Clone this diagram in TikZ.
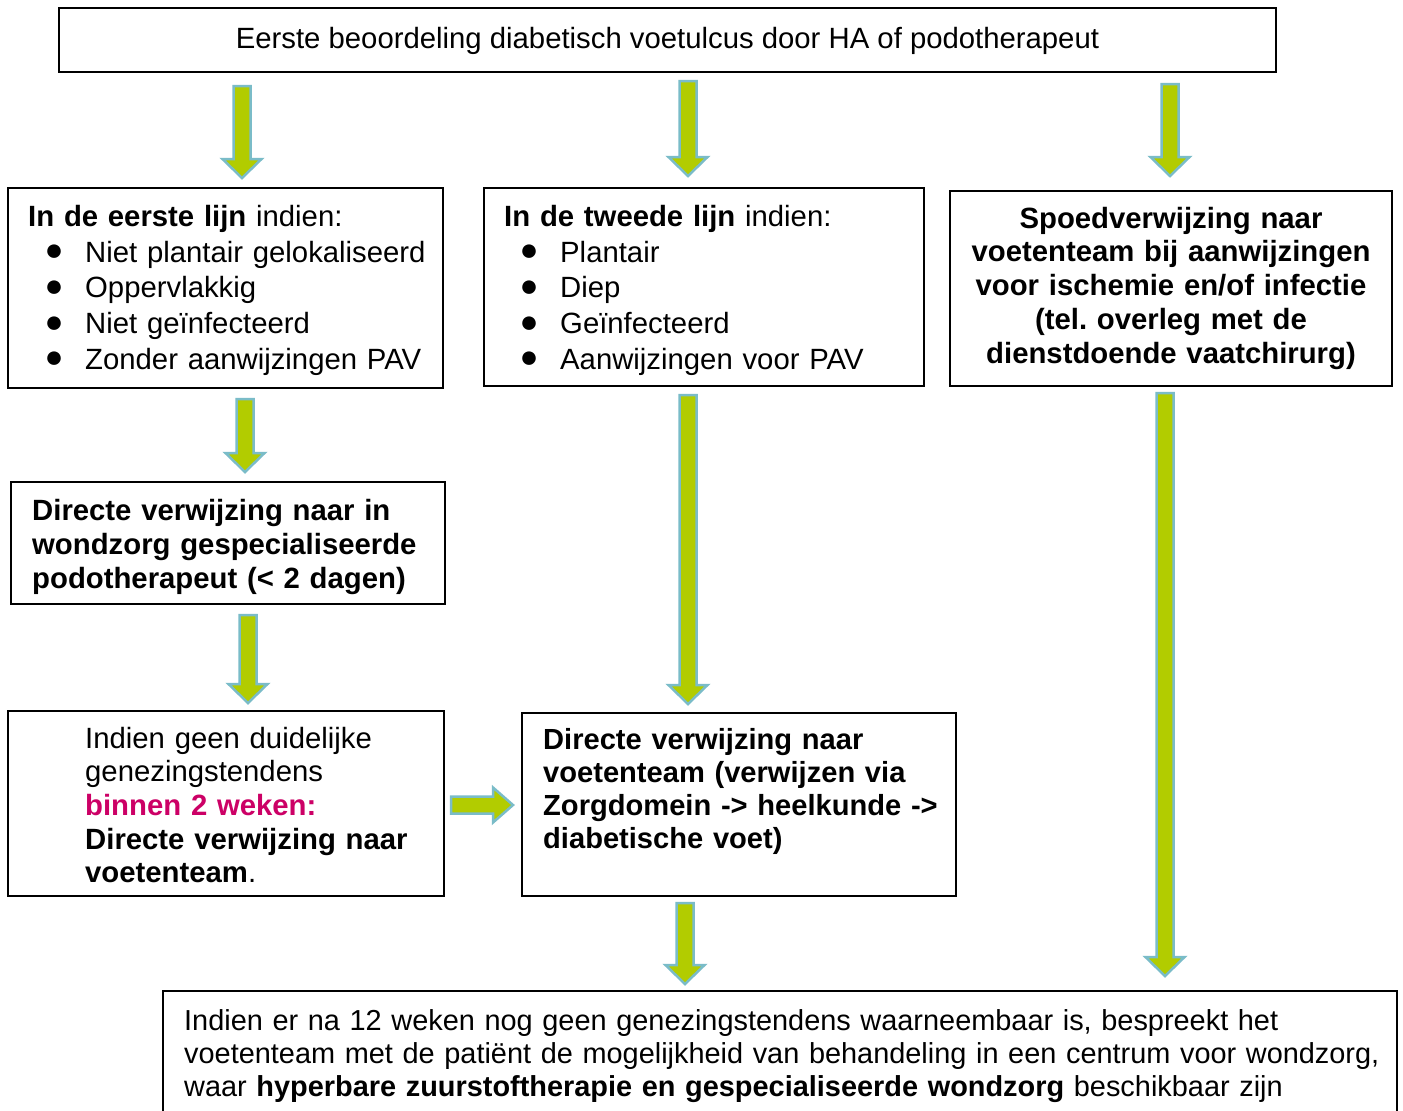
\documentclass[tikz,border=0pt]{standalone}
\usepackage{fontspec}
\usepackage{graphicx}
\setmainfont{Liberation Sans}
\usetikzlibrary{calc}
\definecolor{arrowfill}{RGB}{178,204,0}
\definecolor{arrowedge}{RGB}{122,188,200}
\definecolor{pinkred}{RGB}{204,0,102}
\setlength\parindent{0pt}
\frenchspacing
\hyphenpenalty=10000
\newcommand\bitem{\leavevmode\makebox[41pt][l]{\hspace{0.5pt}\raisebox{1.5pt}{\scalebox{1.43}{\fontsize{22pt}{22pt}\selectfont ●}}}}
% vertical block arrow: #1 source node, #2 target node, #3 x coordinate name, #4 start offset, #5 end gap
\newcommand\varrowbig[5]{%
  \draw[bigarrow] let \p1=($(#1.south -| #3)+(0,#4)$), \p2=($(#2.north -| #3)+(0,-#5)$) in
    ({\x1-8.5pt},\y1) -- ({\x1+8.5pt},\y1) -- ({\x1+8.5pt},{\y2+19pt}) -- ({\x1+19.5pt},{\y2+19pt})
    -- (\x1,\y2) -- ({\x1-19.5pt},{\y2+19pt}) -- ({\x1-8.5pt},{\y2+19pt}) -- cycle;}
% horizontal block arrow
\newcommand\harrowbig[5]{%
  \draw[bigarrow] let \p1=($(#1.east |- #3)+(#4,0)$), \p2=($(#2.west |- #3)+(-#5,0)$) in
    (\x1,{\y1+8.5pt}) -- (\x1,{\y1-8.5pt}) -- ({\x2-20pt},{\y1-8.5pt}) -- ({\x2-20pt},{\y1-17.5pt})
    -- (\x2,\y1) -- ({\x2-20pt},{\y1+17.5pt}) -- ({\x2-20pt},{\y1+8.5pt}) -- cycle;}
\begin{document}
\begin{tikzpicture}[x=1pt,y=-1pt,
  box/.style={draw=black, line width=1.6pt, inner sep=0pt, outer sep=0pt, anchor=north west},
  bigarrow/.style={draw=arrowedge, fill=arrowfill, line width=2.5pt, line join=miter},
  txt/.style={anchor=base west, inner sep=0pt, align=left, text width=#1},
  ctxt/.style={anchor=base, inner sep=0pt, align=center, text width=#1},
]
\useasboundingbox (0,0) rectangle (1403,1111);
\clip (0,0) rectangle (1403,1111);
\fill[white] (0,0) rectangle (1403,1111);

% boxes
\node[box, minimum width=1217pt, minimum height=64pt] (top) at (59,8) {};
\node[box, minimum width=435pt, minimum height=200pt] (L1) at (8,188) {};
\node[box, minimum width=440pt, minimum height=198pt] (M1) at (484,188) {};
\node[box, minimum width=442pt, minimum height=195pt] (R1) at (950,191) {};
\node[box, minimum width=434pt, minimum height=122pt] (L2) at (11,482) {};
\node[box, minimum width=436pt, minimum height=185pt] (L3) at (8,711) {};
\node[box, minimum width=434pt, minimum height=183pt] (M2) at (522,713) {};
\node[box, minimum width=1234pt, minimum height=150pt] (B) at (163,991) {};

% texts
\node[anchor=base, inner sep=0pt, font=\fontsize{29.3pt}{33.7pt}\selectfont] (ttop) at (667.5,48)
  {Eerste beoordeling diabetisch voetulcus door HA of podotherapeut};

\node[txt=420pt, font=\fontsize{29.3pt}{35.8pt}\selectfont] (tL1h) at (28,226)
  {\textbf{In de eerste lijn} indien:};
\node[txt=420pt, font=\fontsize{29.3pt}{35.8pt}\selectfont] (tL1) at (44,262)
  {\bitem Niet plantair gelokaliseerd\\
   \bitem Oppervlakkig\\
   \bitem Niet geïnfecteerd\\
   \bitem Zonder aanwijzingen PAV};

\node[txt=420pt, font=\fontsize{29.3pt}{35.8pt}\selectfont] (tM1h) at (504,226)
  {\textbf{In de tweede lijn} indien:};
\node[txt=420pt, font=\fontsize{29.3pt}{35.8pt}\selectfont] (tM1) at (519,262)
  {\bitem Plantair\\
   \bitem Diep\\
   \bitem Geïnfecteerd\\
   \bitem Aanwijzingen voor PAV};

\node[ctxt=430pt, font=\bfseries\fontsize{29.3pt}{33.8pt}\selectfont] (tR1) at (1171,228)
  {Spoedverwijzing naar\\
   voetenteam bij aanwijzingen\\
   voor ischemie en/of infectie\\
   (tel. overleg met de\\
   dienstdoende vaatchirurg)};

\node[txt=410pt, font=\bfseries\fontsize{29.3pt}{34pt}\selectfont] (tL2) at (32,520)
  {Directe verwijzing naar in\\
   wondzorg gespecialiseerde\\
   podotherapeut (< 2 dagen)};

\node[txt=355pt, font=\fontsize{29.3pt}{33.7pt}\selectfont] (tL3) at (85,748)
  {Indien geen duidelijke\\
   genezingstendens\\
   \textcolor{pinkred}{\textbf{binnen 2 weken:}}\\
   \textbf{Directe verwijzing naar}\\
   \textbf{voetenteam}.};

\node[txt=410pt, font=\bfseries\fontsize{29.1pt}{33.3pt}\selectfont] (tM2) at (543,749)
  {Directe verwijzing naar\\
   voetenteam (verwijzen via\\
   Zorgdomein -> heelkunde ->\\
   diabetische voet)};

\node[txt=1300pt, font=\fontsize{28.9pt}{33pt}\selectfont] (tB) at (184,1030)
  {Indien er na 12 weken nog geen genezingstendens waarneembaar is, bespreekt het\\
   voetenteam met de patiënt de mogelijkheid van behandeling in een centrum voor wondzorg,\\
   waar \textbf{hyperbare zuurstoftherapie en gespecialiseerde wondzorg} beschikbaar zijn};

% arrow axis coordinates
\coordinate (xa1) at (242,0);
\coordinate (xa2) at (688,0);
\coordinate (xa3) at (1170,0);
\coordinate (xa4) at (245,0);
\coordinate (xa5) at (248,0);
\coordinate (xa6) at (688,0);
\coordinate (xa7) at (1165,0);
\coordinate (xa8) at (685,0);
\coordinate (ya9) at (0,805);

% arrows
\varrowbig{top}{L1}{xa1}{14}{10}
\varrowbig{top}{M1}{xa2}{9}{12}
\varrowbig{top}{R1}{xa3}{12}{15}
\varrowbig{L1}{L2}{xa4}{11}{10}
\varrowbig{L2}{L3}{xa5}{11}{8}
\varrowbig{M1}{M2}{xa6}{9}{9}
\varrowbig{R1}{B}{xa7}{7}{15}
\varrowbig{M2}{B}{xa8}{7}{7}
\harrowbig{L3}{M2}{ya9}{7}{9}
\end{tikzpicture}
\end{document}
